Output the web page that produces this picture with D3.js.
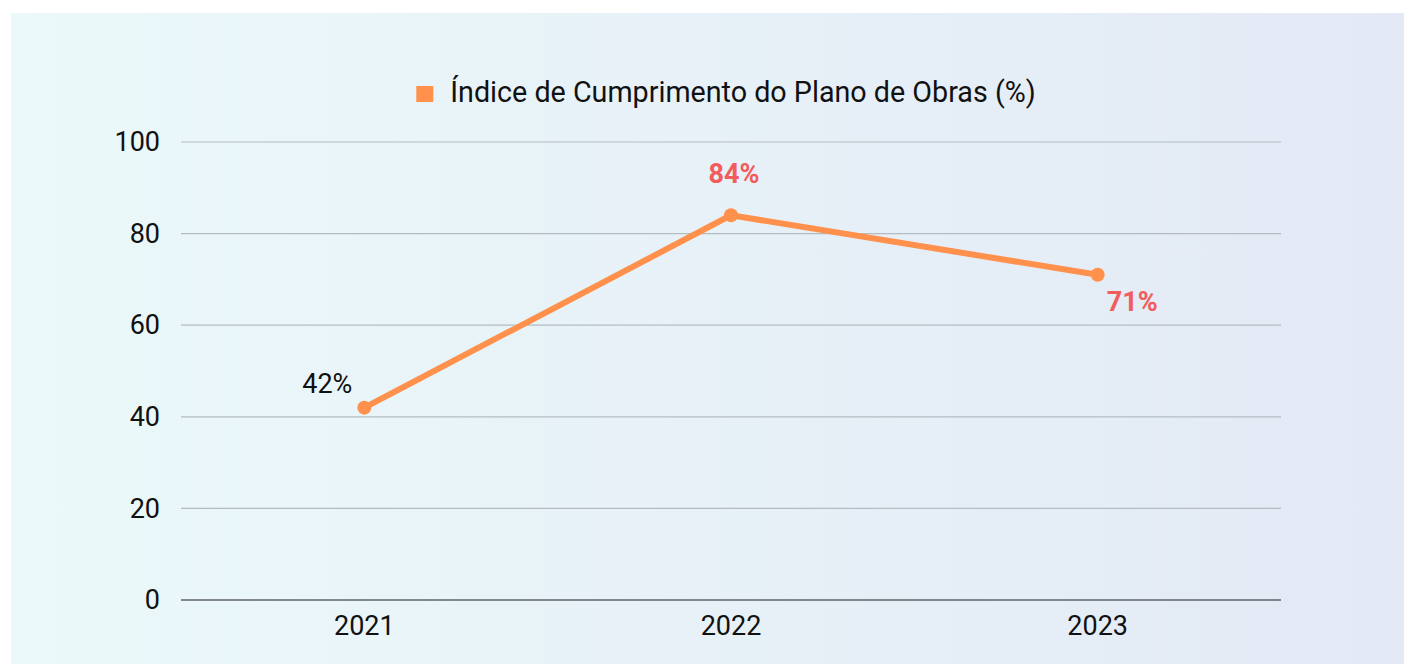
<!DOCTYPE html>
<html>
<head>
<meta charset="utf-8">
<script src="https://cdn.jsdelivr.net/npm/d3@7"></script>
<style>
  body { margin: 0; background: #fff; font-family: Roboto, sans-serif; }
  #chart {
    position: absolute; left: 11px; top: 13px; width: 1393px; height: 651px;
    background: linear-gradient(to right, #ebf9fa, #e3e9f5);
  }
</style>
</head>
<body>
<div id="chart"></div>
<script>
// Chart data
var years = ["2021", "2022", "2023"];
var indice = [42, 84, 71];
var yTicks = [0, 20, 40, 60, 80, 100];
var seriesName = "Índice de Cumprimento do Plano de Obras (%)";

// Set the dimensions and margins (relative to the panel)
var margin = {top: 129, right: 123, bottom: 64, left: 170},
    width = 1393 - margin.left - margin.right,
    height = 651 - margin.top - margin.bottom;

var svg = d3.select("#chart")
  .append("svg")
    .attr("width", 1393)
    .attr("height", 651)
  .append("g")
    .attr("transform", "translate(" + margin.left + "," + margin.top + ")");

var x = d3.scaleBand()
  .domain(years)
  .range([0, width]);

var y = d3.scaleLinear()
  .domain([0, 100])
  .range([height, 0]);

// Grid lines
svg.append("g")
  .selectAll("line")
  .data(yTicks)
  .enter().append("line")
    .attr("x1", 0)
    .attr("x2", width)
    .attr("y1", function(d) { return y(d); })
    .attr("y2", function(d) { return y(d); })
    .attr("stroke", function(d) { return d === 0 ? "#5f6368" : "#b4bcc2"; })
    .attr("stroke-width", function(d) { return d === 0 ? 1.5 : 1.2; });

// Y axis labels
var yAxis = svg.append("g")
  .call(d3.axisLeft(y).tickValues(yTicks).tickSize(0).tickPadding(21));
yAxis.select(".domain").remove();
yAxis.selectAll("text")
  .style("font-family", "Roboto, sans-serif")
  .style("font-size", "27px")
  .attr("fill", "#111");

// X axis labels
var xAxis = svg.append("g")
  .attr("transform", "translate(0," + height + ")")
  .call(d3.axisBottom(x).tickSize(0).tickPadding(16));
xAxis.select(".domain").remove();
xAxis.selectAll("text")
  .style("font-family", "Roboto, sans-serif")
  .style("font-size", "27px")
  .attr("fill", "#111");

var cx = function(i) { return x(years[i]) + x.bandwidth() / 2; };

// The line
var line = d3.line()
  .x(function(d, i) { return cx(i); })
  .y(function(d) { return y(d); });

svg.append("path")
  .datum(indice)
  .attr("fill", "none")
  .attr("stroke", "#ff914d")
  .attr("stroke-width", 6)
  .attr("stroke-linejoin", "round")
  .attr("d", line);

svg.selectAll(".dot")
  .data(indice)
  .enter().append("circle")
    .attr("class", "dot")
    .attr("cx", function(d, i) { return cx(i); })
    .attr("cy", function(d) { return y(d); })
    .attr("r", 7)
    .attr("fill", "#ff914d");

// Data labels
var labelStyle = [
  {dx: -12, dy: -15, anchor: "end", color: "#111", weight: "normal"},
  {dx: 3, dy: -32, anchor: "middle", color: "#f25c5c", weight: "bold"},
  {dx: 9, dy: 36, anchor: "start", color: "#f25c5c", weight: "bold"}
];
svg.selectAll(".lbl")
  .data(indice)
  .enter().append("text")
    .attr("class", "lbl")
    .attr("x", function(d, i) { return cx(i) + labelStyle[i].dx; })
    .attr("y", function(d, i) { return y(d) + labelStyle[i].dy; })
    .attr("text-anchor", function(d, i) { return labelStyle[i].anchor; })
    .attr("fill", function(d, i) { return labelStyle[i].color; })
    .style("font-weight", function(d, i) { return labelStyle[i].weight; })
    .style("font-size", "27px")
    .text(function(d) { return d + "%"; });

// Legend
var legend = svg.append("g")
  .attr("transform", "translate(" + (width / 2 - 5) + "," + (-40) + ")");
var legText = legend.append("text")
  .attr("y", 0)
  .attr("fill", "#111")
  .style("font-size", "28.7px")
  .text(seriesName);
var tw = legText.node().getComputedTextLength();
var total = 17 + 17 + tw;
legText.attr("x", -total / 2 + 34);
legend.append("rect")
  .attr("x", -total / 2)
  .attr("y", -16)
  .attr("width", 17)
  .attr("height", 16)
  .attr("fill", "#ff914d");
</script>
</body>
</html>
